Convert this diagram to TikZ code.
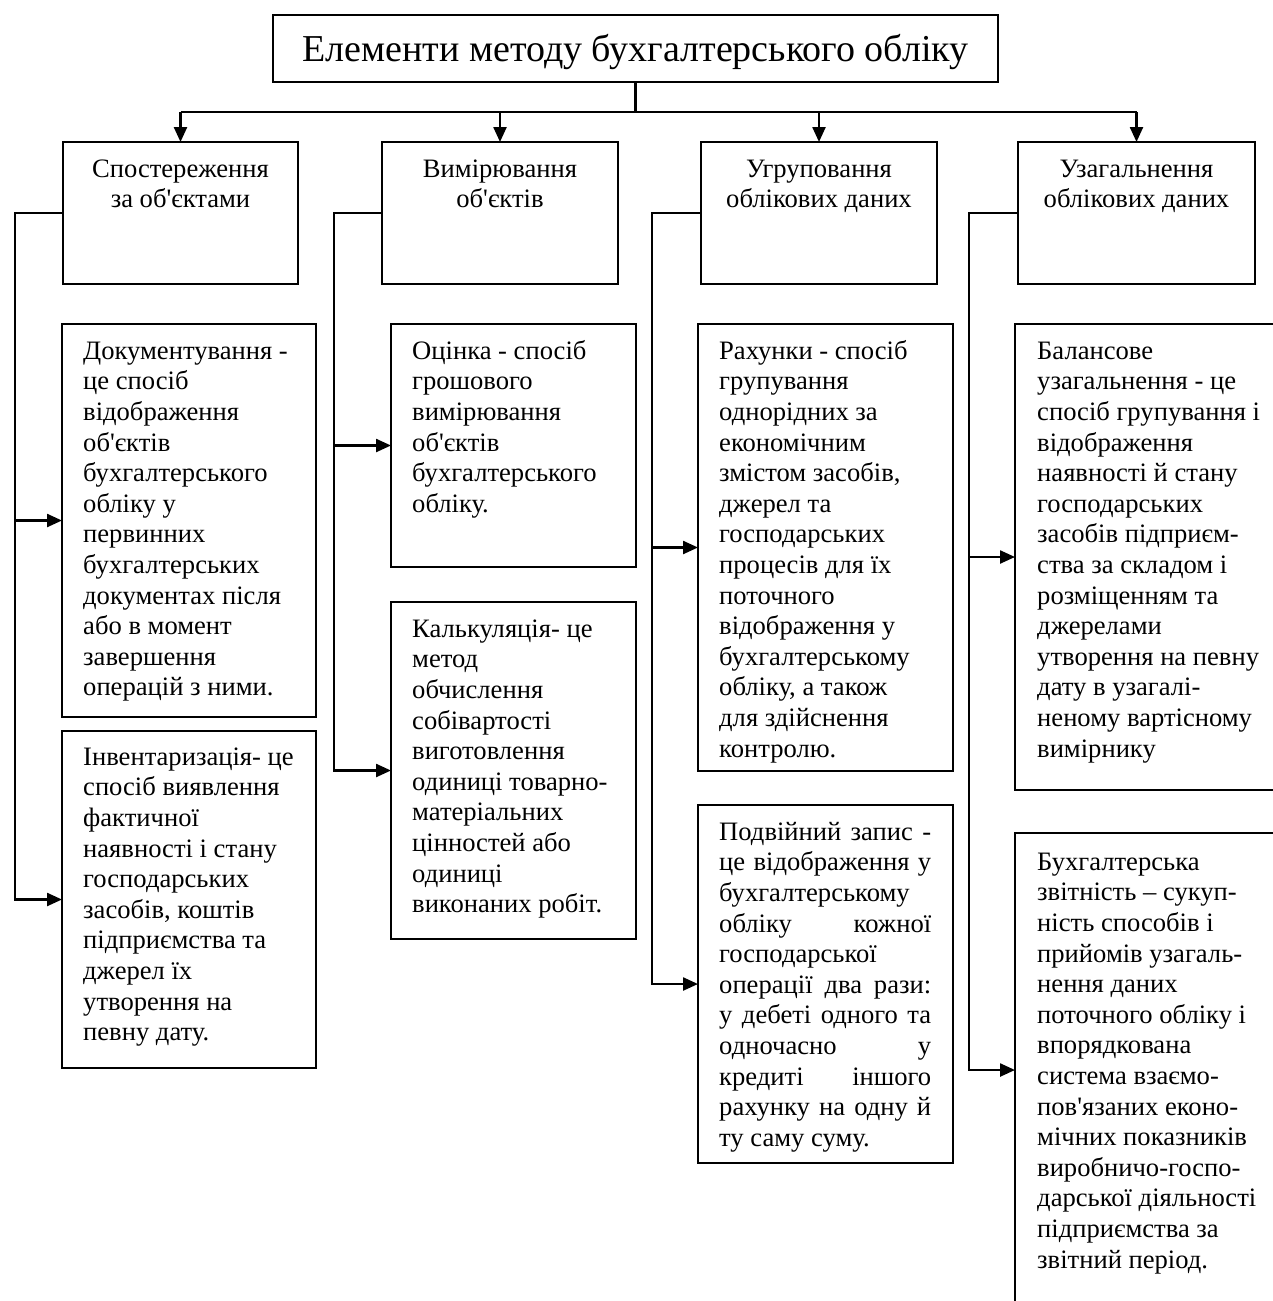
\documentclass[tikz,border=0pt]{standalone}
\usepackage{fontspec}
\setmainfont{Liberation Serif}
\usetikzlibrary{arrows.meta}
\newcommand{\apos}{\textquotesingle}
\newcommand{\jl}[1]{\makebox[212pt][s]{#1}}
\newcommand{\fs}{\rule{0pt}{25pt}}
\begin{document}
\begin{tikzpicture}[x=1pt,y=-1pt,
  boxline/.style={draw=black, line width=1.5pt},
  box/.style={boxline, rectangle, inner sep=0pt, outer sep=0pt, anchor=north west},
  hidden/.style={rectangle, inner sep=0pt, outer sep=0pt, anchor=north west},
  conn/.style={line width=2.4pt, black},
  arr/.style={-{Triangle[length=15pt,width=13pt]}},
  body/.style={font={\fontsize{26.6}{30.6}\selectfont}, inner sep=0pt, align=left, anchor=north west},
  head/.style={font={\fontsize{26.6}{30}\selectfont}, inner sep=0pt, align=center, anchor=north},
]
\useasboundingbox (0,0) rectangle (1273,1301);

% title
\node[box, minimum width=725pt, minimum height=67pt, text height=34pt, text depth=9pt, font={\fontsize{38}{44}\selectfont}] (title) at (273,15) {Елементи методу бухгалтерського обліку};

% level 2 boxes
\node[box, minimum width=235pt, minimum height=142pt] (h1) at (63,142) {};
\node[box, minimum width=236pt, minimum height=142pt] (h2) at (382,142) {};
\node[box, minimum width=236pt, minimum height=142pt] (h3) at (701,142) {};
\node[box, minimum width=237pt, minimum height=142pt] (h4) at (1018,142) {};
\node[head] (h1t) at ([shift={(0,10)}]h1.north) {\fs Спостереження\\за об\apos єктами};
\node[head] (h2t) at ([shift={(0,10)}]h2.north) {\fs Вимірювання\\об\apos єктів};
\node[head] (h3t) at ([shift={(0,10)}]h3.north) {\fs Угруповання\\облікових даних};
\node[head] (h4t) at ([shift={(0,10)}]h4.north) {\fs Узагальнення\\облікових даних};

% lower boxes
\node[box, minimum width=254pt, minimum height=393pt] (doc) at (62,324) {};
\node[box, minimum width=254pt, minimum height=337pt] (inv) at (62,731) {};
\node[box, minimum width=245pt, minimum height=243pt] (ots) at (391,324) {};
\node[box, minimum width=245pt, minimum height=337pt] (kal) at (391,602) {};
\node[box, minimum width=255pt, minimum height=447pt] (rah) at (698,324) {};
\node[box, minimum width=255pt, minimum height=358pt] (pod) at (698,805) {};
\node[hidden, minimum width=258pt, minimum height=466pt] (bal) at (1015,324) {};
\node[hidden, minimum width=258pt, minimum height=474pt] (buh) at (1015,833) {};
\coordinate (bot) at (0,1301);
\draw[boxline] (bal.north east) -- (bal.north west) -- (bal.south west) -- (bal.south east);
\draw[boxline] (buh.north east) -- (buh.north west) -- (buh.west |- bot);

% texts
\node[body] (doct) at ([shift={(21,10)}]doc.north west) {\fs Документування -\\це спосіб\\відображення\\об\apos єктів\\бухгалтерського\\обліку у\\первинних\\бухгалтерських\\документах після\\або в момент\\завершення\\операцій з ними.};
\node[body] (invt) at ([shift={(21,9)}]inv.north west) {\fs Інвентаризація- це\\спосіб виявлення\\фактичної\\наявності і стану\\господарських\\засобів, коштів\\підприємства та\\джерел їх\\утворення на\\певну дату.};
\node[body] (otst) at ([shift={(21,10)}]ots.north west) {\fs Оцінка - спосіб\\грошового\\вимірювання\\об\apos єктів\\бухгалтерського\\обліку.};
\node[body] (kalt) at ([shift={(21,10)}]kal.north west) {\fs Калькуляція- це\\метод\\обчислення\\собівартості\\виготовлення\\одиниці товарно-\\матеріальних\\цінностей або\\одиниці\\виконаних робіт.};
\node[body] (raht) at ([shift={(21,10)}]rah.north west) {\fs Рахунки - спосіб\\групування\\однорідних за\\економічним\\змістом засобів,\\джерел та\\господарських\\процесів для їх\\поточного\\відображення у\\бухгалтерському\\обліку, а також\\для здійснення\\контролю.};
\node[body] (podt) at ([shift={(21,10)}]pod.north west) {\fs\jl{Подвійний запис -}\\\jl{це відображення у}\\бухгалтерському\\\jl{обліку кожної}\\господарської\\\jl{операції два рази:}\\\jl{у дебеті одного та}\\\jl{одночасно у}\\\jl{кредиті іншого}\\\jl{рахунку на одну й}\\ту саму суму.};
\node[body] (balt) at ([shift={(22,10)}]bal.north west) {\fs Балансове\\узагальнення - це\\спосіб групування і\\відображення\\наявності й стану\\господарських\\засобів підприєм-\\ства за складом і\\розміщенням та\\джерелами\\утворення на певну\\дату в узагалі-\\неному вартісному\\вимірнику};
\node[body] (buht) at ([shift={(22,12)}]buh.north west) {\fs Бухгалтерська\\звітність – сукуп-\\ність способів і\\прийомів узагаль-\\нення даних\\поточного обліку і\\впорядкована\\система взаємо-\\пов\apos язаних еконо-\\мічних показників\\виробничо-госпо-\\дарської діяльності\\підприємства за\\звітний період.};

% top connectors
\coordinate (bar) at (635.5,112);
\draw[conn] (title.south) -- (bar);
\draw[conn] (h1.north |- bar) -- (h4.north |- bar);
\draw[conn, arr] (h1.north |- bar) -- (h1.north);
\draw[conn, arr] (h2.north |- bar) -- (h2.north);
\draw[conn, arr] (h3.north |- bar) -- (h3.north);
\draw[conn, arr] (h4.north |- bar) -- (h4.north);

% spines
\coordinate (l1) at (15,0);
\coordinate (l2) at (334,0);
\coordinate (l3) at (652,0);
\coordinate (l4) at (969,0);
\draw[conn, arr] (h1.west) -- (h1.west -| l1) -- (inv.west -| l1) -- (inv.west);
\draw[conn, arr] (doc.west -| l1) -- (doc.west);
\draw[conn, arr] (h2.west) -- (h2.west -| l2) -- (kal.west -| l2) -- (kal.west);
\draw[conn, arr] (ots.west -| l2) -- (ots.west);
\draw[conn, arr] (h3.west) -- (h3.west -| l3) -- (pod.west -| l3) -- (pod.west);
\draw[conn, arr] (rah.west -| l3) -- (rah.west);
\draw[conn, arr] (h4.west) -- (h4.west -| l4) -- (buh.west -| l4) -- (buh.west);
\draw[conn, arr] (bal.west -| l4) -- (bal.west);
\end{tikzpicture}
\end{document}
